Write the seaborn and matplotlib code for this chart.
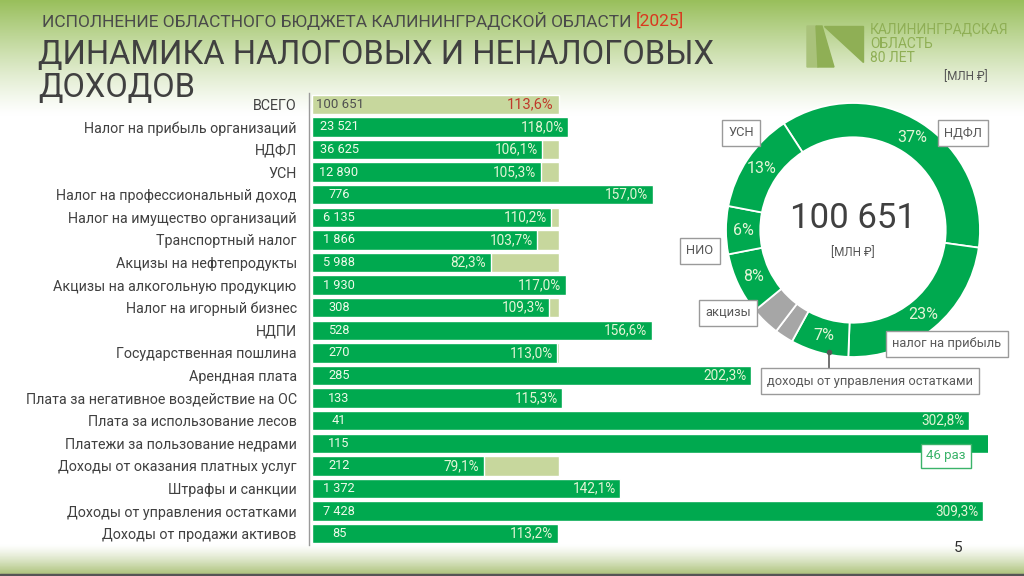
import numpy as np
import pandas as pd
import seaborn as sns
import matplotlib
matplotlib.use('Agg')
import matplotlib.pyplot as plt
from matplotlib.patches import Polygon

# --- data ---
TOTAL_NAME = "ВСЕГО"
TOTAL_AMOUNT = 100651
TOTAL_PCT = 113.6

items = [
    "Налог на прибыль организаций", "НДФЛ", "УСН", "Налог на профессиональный доход",
    "Налог на имущество организаций", "Транспортный налог", "Акцизы на нефтепродукты",
    "Акцизы на алкогольную продукцию", "Налог на игорный бизнес", "НДПИ",
    "Государственная пошлина", "Арендная плата", "Плата за негативное воздействие на ОС",
    "Плата за использование лесов", "Платежи за пользование недрами",
    "Доходы от оказания платных услуг", "Штрафы и санкции",
    "Доходы от управления остатками", "Доходы от продажи активов",
]
amounts = [23521, 36625, 12890, 776, 6135, 1866, 5988, 1930, 308, 528,
           270, 285, 133, 41, 115, 212, 1372, 7428, 85]
pcts = [118.0, 106.1, 105.3, 157.0, 110.2, 103.7, 82.3, 117.0, 109.3, 156.6,
        113.0, 202.3, 115.3, 302.8, 4600.0, 79.1, 142.1, 309.3, 113.2]

donut_labels = ["НДФЛ", "налог на прибыль", "доходы от управления остатками",
                "прочие неналоговые", "прочие налоговые", "акцизы", "НИО", "УСН"]
donut_values = [36625, 23521, 7428, 2386, 3748, 7918, 6135, 12890]
donut_shares = [37, 23, 7, None, None, 8, 6, 13]

GREEN = "#00A94F"
LIGHT = "#C7D79D"
GREY = "#A6A6A6"
TXT = "#404040"

sns.set_theme(style="white")
plt.rcParams['font.family'] = ['Roboto', 'DejaVu Sans']

W, H = 1024, 576
fig = plt.figure(figsize=(W / 100, H / 100), dpi=100)


def fx(x):
    return x / W


def fy(y):
    return 1 - y / H


# background: gradient on top and bottom
bg = fig.add_axes([0, 0, 1, 1], zorder=-10)
bg.set_axis_off()
ys = np.linspace(0, H, 400)
top = np.clip(1 - ys / 115, 0, 1) ** 1.2
bot = np.clip((ys - 545) / 28, 0, 1) ** 1.3
c_top = np.array([0.60, 0.75, 0.36])
c_bot = np.array([0.70, 0.78, 0.52])
white = np.ones(3)
col = white[None, :] * (1 - top[:, None]) + c_top[None, :] * top[:, None]
col = col * (1 - bot[:, None]) + c_bot[None, :] * bot[:, None]
bg.imshow(col[:, None, :], aspect='auto', extent=[0, 1, 0, 1])
bg.set_xlim(0, 1)
bg.set_ylim(0, 1)
bg.axhline(1.5 / H, color="#555555", lw=2.5)

# titles
sub = fig.text(fx(42), fy(21), "ИСПОЛНЕНИЕ ОБЛАСТНОГО БЮДЖЕТА КАЛИНИНГРАДСКОЙ ОБЛАСТИ ",
               fontsize=12.5, color="#4a4a4a", va='center', ha='left')
fig.canvas.draw()
bb = sub.get_window_extent()
fig.text(bb.x1 / W, fy(21), "[2025]", fontsize=12.5, color="#D9381E", va='center', ha='left')
fig.text(fx(38), fy(55), "ДИНАМИКА НАЛОГОВЫХ И НЕНАЛОГОВЫХ", fontsize=23.5,
         color=TXT, va='center', ha='left')
fig.text(fx(38), fy(88), "ДОХОДОВ", fontsize=23.5, color=TXT, va='center', ha='left')

# logo
logo_c = "#8FAF55"
fig.patches.append(Polygon([(fx(807), fy(26)), (fx(816), fy(26)), (fx(818), fy(67)), (fx(807), fy(67))],
                           closed=True, transform=fig.transFigure, color="#A9C27A"))
fig.patches.append(Polygon([(fx(816), fy(26)), (fx(822), fy(26)), (fx(834), fy(67)), (fx(818), fy(67))],
                           closed=True, transform=fig.transFigure, color=logo_c))
fig.patches.append(Polygon([(fx(824), fy(26)), (fx(863), fy(26)), (fx(863), fy(62))],
                           closed=True, transform=fig.transFigure, color=logo_c))
for i, t in enumerate(["КАЛИНИНГРАДСКАЯ", "ОБЛАСТЬ", "80 ЛЕТ"]):
    fig.text(fx(870), fy(30 + 14 * i), t, fontsize=10, color=logo_c, va='center', ha='left')
fig.text(fx(988), fy(77), "[МЛН ₽]", fontsize=8.5, color="#555555", va='center', ha='right')

# --- bar chart ---
names = [TOTAL_NAME] + items
ax = fig.add_axes([fx(312), fy(545), fx(988) - fx(312), (545 - 93) / H])
ax.patch.set_alpha(0)
xmax = (988 - 312) / 2.17

bg_df = pd.DataFrame({"name": names, "pct": [TOTAL_PCT] * len(names)})
df = pd.DataFrame({"name": items, "pct": pcts, "amount": amounts})
sns.barplot(data=bg_df, x="pct", y="name", order=names, color=LIGHT, width=0.86,
            saturation=1, ax=ax)
sns.barplot(data=df, x="pct", y="name", order=names, color=GREEN, width=0.86,
            saturation=1, ax=ax)
ax.set_xlim(0, xmax)
ax.set_ylim(len(names) - 0.5, -0.5)
ax.set_xlabel("")
ax.set_ylabel("")
ax.set_xticks([])
for s in ["top", "right", "bottom"]:
    ax.spines[s].set_visible(False)
ax.spines["left"].set_color("#9a9a9a")
ax.spines["left"].set_linewidth(1)
ax.spines["left"].set_position(("outward", 2))
ax.set_yticks(range(len(names)))
ax.set_yticklabels(names)
ax.set_yticks(np.arange(-0.5, len(names), 1), minor=True)
ax.tick_params(axis='y', which='major', length=0, pad=9, labelsize=10.3, labelcolor=TXT)
ax.tick_params(axis='y', which='minor', length=4, width=1, color="#9a9a9a")

lab_x = (339 - 312) / 2.17
ax.text((316 - 312) / 2.17, 0, f"{TOTAL_AMOUNT:,}".replace(",", " "), ha='left', va='center',
        fontsize=9.5, color="#505050")
ax.text(TOTAL_PCT - 2.3, 0, f"{TOTAL_PCT:.1f}%".replace(".", ","), ha='right', va='center',
        fontsize=10.5, color="#C0392B")
for i, (a, p) in enumerate(zip(amounts, pcts), start=1):
    ax.text(lab_x, i, f"{a:,}".replace(",", " "), ha='center', va='center',
            fontsize=9.2, color="#F0FAEA")
    if p > 1000:
        ax.text((946 - 312) / 2.17, i + 0.55, f"{p / 100:.0f} раз", ha='center', va='center',
                fontsize=9.5, color="#3BB36A",
                bbox=dict(boxstyle="square,pad=0.4", fc="white", ec="#3BB36A", lw=1))
    else:
        ax.text(p - 2, i, f"{p:.1f}%".replace(".", ","), ha='right', va='center',
                fontsize=9.8, color="#E3F5D6")

# --- donut ---
cx, cy, r = 853, 230, 127
dax = fig.add_axes([fx(cx - r), fy(cy + r), 2 * r / W, 2 * r / H])
dax.set_axis_off()
dcolors = [GREEN, GREEN, GREEN, GREY, GREY, GREEN, GREEN, GREEN]
wedges, _ = dax.pie(donut_values, colors=dcolors, startangle=123, counterclock=False,
                    radius=1, wedgeprops=dict(width=0.27, edgecolor="white", linewidth=1.3))
dax.set_xlim(-1, 1)
dax.set_ylim(-1, 1)
tot = sum(donut_values)
for w, s in zip(wedges, donut_shares):
    if s is None:
        continue
    ang = np.deg2rad((w.theta1 + w.theta2) / 2)
    dax.text(0.865 * np.cos(ang), 0.865 * np.sin(ang), f"{s}%",
             ha='center', va='center', fontsize=11.5, color="#E3F5D6")
dax.text(0, 0.09, f"{tot:,}".replace(",", " "), ha='center', va='center',
         fontsize=25, color=TXT)
dax.text(0, -0.18, "[МЛН ₽]", ha='center', va='center', fontsize=8.5, color="#555555")

box = dict(boxstyle="square,pad=0.5", fc="white", ec="#9a9a9a", lw=1)
callouts = {"УСН": (741, 133), "НДФЛ": (963, 133), "НИО": (700, 251), "акцизы": (728, 313),
            "налог на прибыль": (947, 344), "доходы от управления остатками": (870, 381)}
for t, (x, y) in callouts.items():
    fig.text(fx(x), fy(y), t, ha='center', va='center', fontsize=9.3, color="#595959", bbox=box)
fig.lines.append(plt.Line2D([fx(829), fx(829)], [fy(352), fy(372)], transform=fig.transFigure,
                            color="#595959", lw=1.2))
fig.lines.append(plt.Line2D([fx(829)], [fy(352)], transform=fig.transFigure, marker='o',
                            ms=3, color="#595959"))

fig.text(fx(958), fy(548), "5", ha='center', va='center', fontsize=11, color="#303030")

fig.savefig("out.png", dpi=100)
